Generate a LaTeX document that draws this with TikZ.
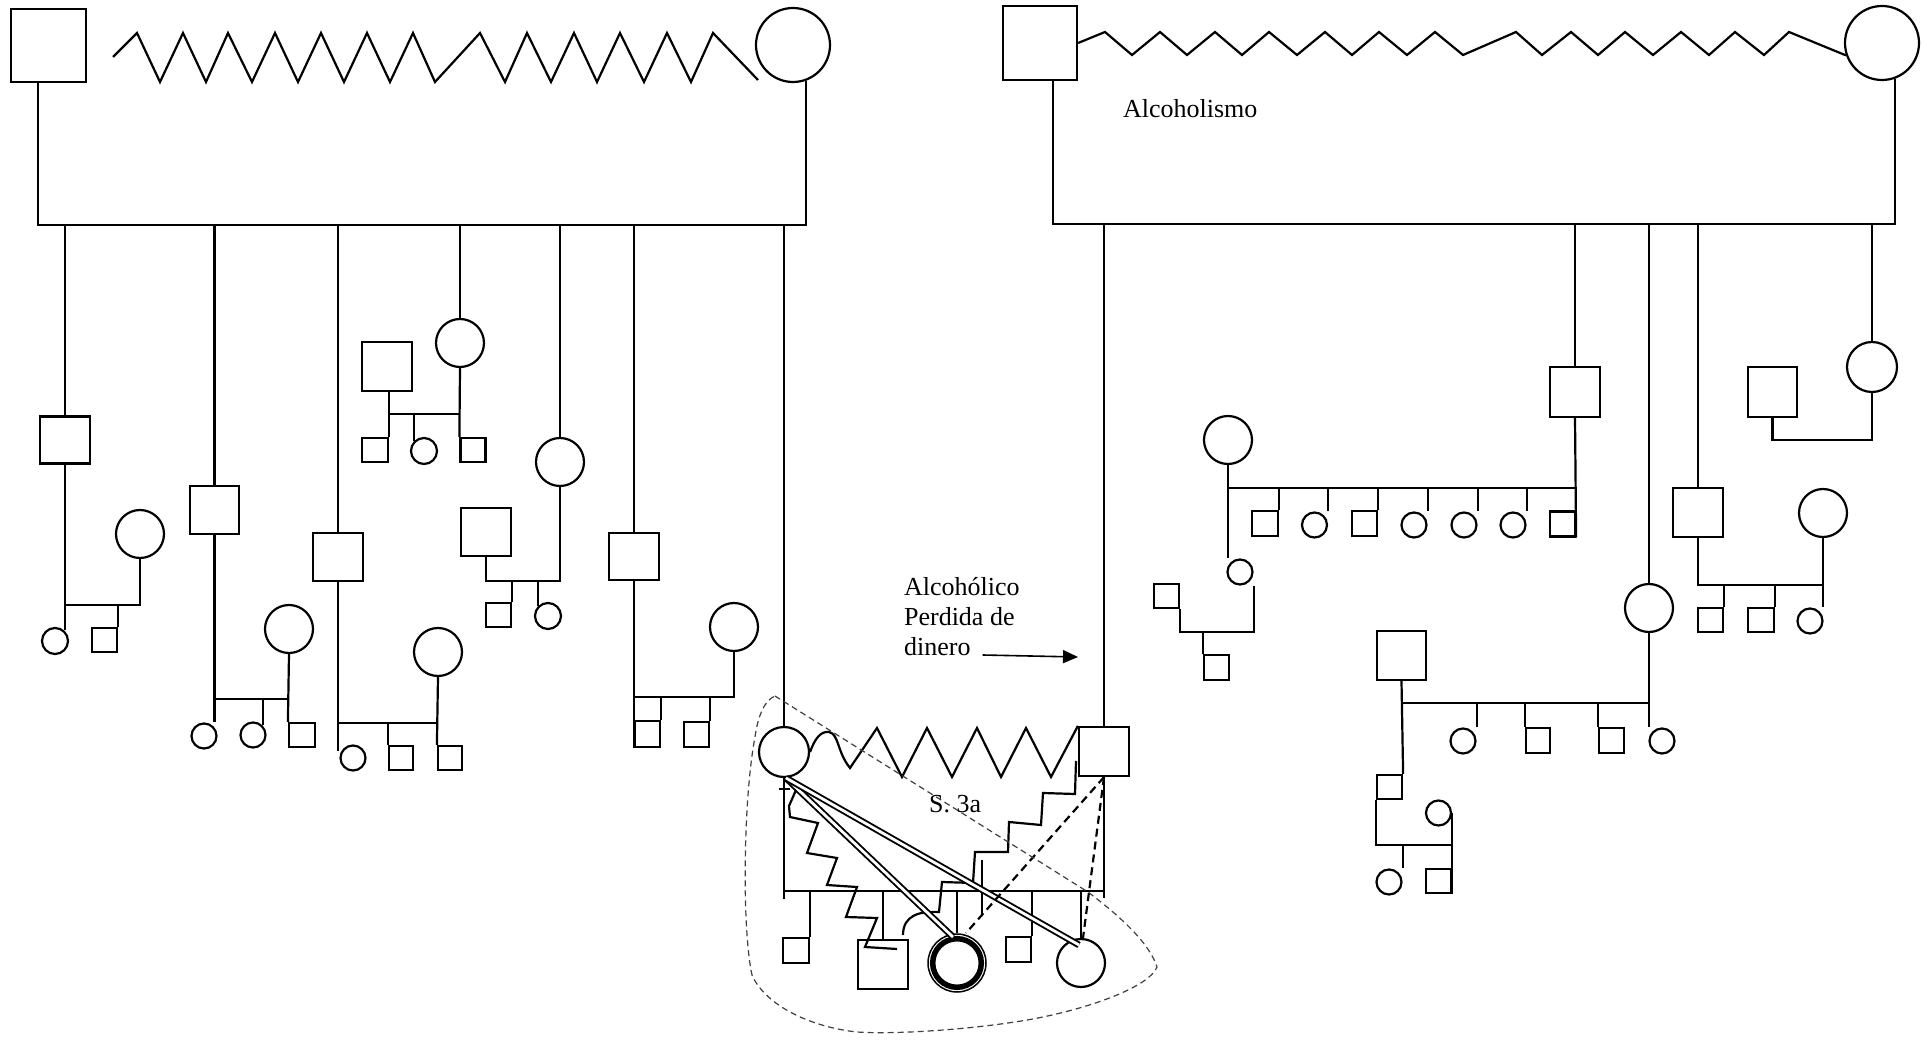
\documentclass[tikz,border=0pt]{standalone}
\usepackage{fontspec}
\setmainfont{Liberation Serif}
\usetikzlibrary{calc,arrows.meta}
\begin{document}
\begin{tikzpicture}[x=1pt,y=-1pt,line width=2.2pt,
  kbox/.style n args={2}{draw,rectangle,inner sep=0pt,minimum width=#1,minimum height=#2},
  kcirc/.style={draw,circle,inner sep=0pt,minimum size=#1},
  lbl/.style={anchor=base west,inner sep=0pt,font=\fontsize{26}{30}\selectfont},
  dotb/.style={draw=black!75,line width=1.2pt,dash pattern=on 6pt off 4pt},
  relx/.style={line width=2.2pt,dash pattern=on 8pt off 5pt},
  tie/.style={double=white,double distance=2.8pt,line width=1.9pt},
]
\useasboundingbox (0,0) rectangle (1923,1040);
\fill[white] (0,0) rectangle (1923,1040);

% ================= LEFT FAMILY =================
\node[kbox={75pt}{73pt}] (gpA) at (48.5,45.5) {};
\node[kcirc=74pt] (gmA) at (793,45) {};
\draw ([xshift=-10.5pt]gpA.south) -- ++(0,142) coordinate (barL) -| (gmA.-70);
\draw (113,57) -- (137,33) -- (160,82) -- (183,33) -- (206,82) -- (228,33) -- (252,82)
  -- (275,33) -- (298,82) -- (321,33) -- (344,82) -- (367,33) -- (390,82) -- (413,33)
  -- (435,82) -- (480,33) -- (505,82) -- (527,33) -- (551,82) -- (574,33) -- (597,82)
  -- (620,33) -- (644,82) -- (667,33) -- (691,82) -- (713,33) -- (758,80);

% family A
\node[kbox={50pt}{47pt}] (A1) at (65,440) {};
\node[kcirc=48pt] (A2) at (140,534) {};
\node[kcirc=26pt] (A3) at (55,641) {};
\node[kbox={25pt}{24pt}] (A4) at (104.5,640) {};
\coordinate (hA) at (0,605);
\draw (A1.north |- barL) -- (A1.north);
\draw (A1.south) -- (A1.south |- A3.50);
\draw (A2.south) -- (A2.south |- hA) -- (A1.south |- hA);
\draw (A4.north east |- hA) -- (A4.north east);

% family B
\node[kbox={49pt}{48pt}] (B1) at (214.5,510) {};
\node[kcirc=48pt] (B2) at (289,629) {};
\node[kcirc=25pt] (B3) at (204,736) {};
\node[kcirc=25pt] (B4) at (253,735) {};
\node[kbox={26pt}{24pt}] (B5) at (302,735) {};
\coordinate (hB) at (0,699);
\draw (B1.north |- barL) -- (B1.north);
\draw (B1.south) -- (B1.south |- B3.north);
\draw (B2.south) -- (B5.north west);
\draw (B1.south |- hB) -- (B2.south |- hB);
\draw (B4.north east |- hB) -- (B4.north east);

% family C
\node[kbox={50pt}{48pt}] (C1) at (338,557) {};
\node[kcirc=48pt] (C2) at (438,652) {};
\node[kcirc=25pt] (C3) at (353,758) {};
\node[kbox={24pt}{24pt}] (C4) at (401,758) {};
\node[kbox={24pt}{24pt}] (C5) at (450,758) {};
\coordinate (hC) at (0,723);
\draw (C1.north |- barL) -- (C1.north);
\draw (C1.south) -- (C1.south |- C3.150);
\draw (C2.south) -- (C5.north west);
\draw (C1.south |- hC) -- (C2.south |- hC);
\draw (C4.north west |- hC) -- (C4.north west);

% family D
\node[kcirc=48pt] (D1) at (460,343) {};
\node[kbox={50pt}{49pt}] (D2) at (387,366.5) {};
\node[kbox={26pt}{24pt}] (D3) at (375,450) {};
\node[kcirc=26pt] (D4) at (424,451) {};
\node[kbox={25pt}{24pt}] (D5) at (473,450) {};
\coordinate (hD) at (0,414);
\draw (D1.north |- barL) -- (D1.north);
\draw (D3.north east |- D2.south) -- (D3.north east);
\draw (D1.south) -- (D5.north west);
\draw (D3.north east |- hD) -- (D1.south |- hD);
\draw (D4.north west |- hD) -- (D4.north west);

% family E
\node[kcirc=48pt] (E1) at (560,462) {};
\node[kbox={50pt}{48pt}] (E2) at (486,532) {};
\node[kbox={25pt}{24pt}] (E3) at (498.5,615) {};
\node[kcirc=26pt] (E4) at (548,616) {};
\coordinate (hE) at (0,581);
\draw (E1.north |- barL) -- (E1.north);
\draw (E1.south) -- (E1.south |- hE) -- (E2.south |- hE) -- (E2.south);
\draw (E3.north east |- hE) -- (E3.north east);
\draw (E4.north west |- hE) -- (E4.north west);

% family F
\node[kbox={50pt}{47pt}] (F1) at (634,556.5) {};
\node[kcirc=48pt] (F2) at (734,627) {};
\node[kbox={25pt}{26pt}] (F3) at (647.5,734) {};
\node[kbox={25pt}{25pt}] (F4) at (696.5,734.5) {};
\coordinate (hF) at (0,697);
\draw (F1.north |- barL) -- (F1.north);
\draw (F3.south west |- F1.south) -- (F3.south west);
\draw (F3.north west |- hF) -- (F2.south |- hF) -- (F2.south);
\draw (F3.north east |- hF) -- (F3.north east);
\draw (F4.north east |- hF) -- (F4.north east);

% ================= RIGHT FAMILY =================
\node[kbox={74pt}{74pt}] (gpB) at (1040,43) {};
\node[kcirc=74pt] (gmB) at (1882,43) {};
\draw ([xshift=13pt]gpB.south) -- ++(0,143) coordinate (barR) -| (gmB.-70);
\draw (gpB.east) -- (1105,32) -- (1132,55) -- (1160,32) -- (1187,55) -- (1215,32) -- (1242,55)
  -- (1269,32) -- (1297,55) -- (1325,32) -- (1352,55) -- (1379,32) -- (1407,55) -- (1435,32)
  -- (1463,55) -- (1516,32) -- (1542,55) -- (1571,32) -- (1598,55) -- (1625,32) -- (1653,55)
  -- (1681,32) -- (1709,55) -- (1735,32) -- (1764,55) -- (1789,32) -- (gmB.199);
\node[lbl] (alc) at (1122,118) {Alcoholismo};

% family G
\node[kbox={50pt}{50pt}] (G1) at (1575,392) {};
\node[kcirc=48pt] (G2) at (1228,440) {};
\node[kbox={26pt}{25pt}] (G3) at (1265,523.5) {};
\node[kcirc=25pt] (G4) at (1314.5,525) {};
\node[kbox={25pt}{25pt}] (G5) at (1364.5,523.5) {};
\node[kcirc=25pt] (G6) at (1414,525) {};
\node[kcirc=25pt] (G7) at (1464,525) {};
\node[kcirc=25pt] (G8) at (1513,525) {};
\node[kbox={25pt}{25pt}] (G9) at (1562.5,524) {};
\coordinate (hG) at (0,488);
\draw (G1.north |- barR) -- (G1.north);
\draw (G1.south) -- (G9.south east);
\draw (G2.south |- hG) -- (G1.south |- hG);
\draw (G3.north east |- hG) -- (G3.north east);
\draw (G4.east |- hG) -- (G4.east |- G4.north);
\draw (G5.north east |- hG) -- (G5.north east);
\draw (G6.east |- hG) -- (G6.east |- G6.north);
\draw (G7.east |- hG) -- (G7.east |- G7.north);
\draw (G8.east |- hG) -- (G8.east |- G8.north);
\node[kcirc=25pt] (G10) at (1240,572) {};
\node[kbox={25pt}{24pt}] (G11) at (1166.5,596) {};
\node[kbox={25pt}{25pt}] (G12) at (1216.5,667.5) {};
\coordinate (hG2) at (0,632);
\draw (G2.south) -- (G2.south |- G10.north);
\draw (G10.east |- G10.south) -- (G10.east |- hG2) -- (G11.south east |- hG2) -- (G11.south east);
\draw (G12.north west |- hG2) -- (G12.north west);

% family H
\node[kcirc=48pt] (H1) at (1649,608) {};
\node[kbox={49pt}{49pt}] (H2) at (1401.5,655.5) {};
\node[kcirc=25pt] (H3) at (1463,741) {};
\node[kbox={24pt}{25pt}] (H4) at (1538,740.5) {};
\node[kbox={25pt}{25pt}] (H5) at (1611.5,740.5) {};
\node[kcirc=25pt] (H6) at (1662,741) {};
\coordinate (hH) at (0,703);
\draw (H1.north |- barR) -- (H1.north);
\draw (H1.south) -- (H1.south |- H6.north);
\draw (H2.south |- hH) -- (H1.south |- hH);
\draw (H3.east |- hH) -- (H3.east |- H3.north);
\draw (H4.north west |- hH) -- (H4.north west);
\draw (H5.north west |- hH) -- (H5.north west);
\node[kbox={25pt}{24pt}] (H7) at (1389.5,787) {};
\node[kcirc=25pt] (H8) at (1438.5,813) {};
\node[kcirc=25pt] (H9) at (1389,882) {};
\node[kbox={25pt}{24pt}] (H10) at (1438.5,881) {};
\coordinate (hH2) at (0,845);
\draw (H2.south) -- (H7.north east);
\draw (H7.south west) -- (H7.south west |- hH2) -- (H8.east |- hH2);
\draw (H8.east) -- (H10.south east);
\draw (H9.east |- hH2) -- (H9.east |- H9.north);

% family J
\node[kbox={50pt}{49pt}] (J1) at (1698,512.5) {};
\node[kcirc=48pt] (J2) at (1823,513) {};
\node[kbox={25pt}{24pt}] (J3) at (1710.5,620) {};
\node[kbox={26pt}{24pt}] (J4) at (1761,620) {};
\node[kcirc=25pt] (J5) at (1810,621) {};
\coordinate (hJ) at (0,585);
\draw (J1.north |- barR) -- (J1.north);
\draw (J1.south) -- (J1.south |- hJ) -- (J2.south |- hJ);
\draw (J2.south) -- (J2.south |- J5.north);
\draw (J3.north east |- hJ) -- (J3.north east);
\draw (J4.north east |- hJ) -- (J4.north east);

% family K
\node[kcirc=50pt] (K1) at (1872,367) {};
\node[kbox={49pt}{50pt}] (K2) at (1772.5,392) {};
\coordinate (hK) at (0,440);
\draw (K1.north |- barR) -- (K1.north);
\draw (K2.south) -- (K2.south |- hK) -- (K1.south |- hK) -- (K1.south);

% ================= S. 3a =================
\node[kcirc=50pt] (M1) at (784,752) {};
\node[kbox={50pt}{49pt}] (R1) at (1104,751.5) {};
\draw (M1.north |- barL) -- (M1.north);
\draw (R1.north |- barR) -- (R1.north);

\node[lbl] (t1) at (903,595) {Alcohólico};
\node[lbl] (t2) at (903,625) {Perdida de};
\node[lbl] (t3) at (903,655) {dinero};
\coordinate (arrEnd) at (1078,657);
\draw[line width=1.6pt,-{Triangle[length=15pt,width=13pt]}] ([xshift=11pt]t3.base east) -- (arrEnd);

% conflicted marriage line
\draw (M1.east) .. controls (815,738) and (821,731) .. (829,732)
  .. controls (839,734) and (837,752) .. (850,768) -- (877,728) -- (902,777) -- (927,728)
  -- (952,777) -- (977,728) -- (1001,777) -- (1026,728) -- (1051,777) -- (R1.north west);

\coordinate (h3) at (0,891);
\draw (M1.south) -- ++(0,121);
\draw (R1.south) -- ++(0,121);
\draw (M1.south |- h3) -- (R1.south |- h3);
\draw (779,789) -- (790,789);

\node[lbl] (s3a) at (928,812) {S. 3a};

% children
\node[kbox={26pt}{25pt}] (N1) at (796,950.5) {};
\node[kbox={50pt}{49pt}] (N2) at (883,964.5) {};
\node[kcirc=58pt,line width=1.5pt] (N3) at (957,963) {};
\draw[line width=5.5pt] (N3.center) circle[radius=24.3pt];
\node[kbox={25pt}{25pt}] (N4) at (1018.5,949.5) {};
\node[kcirc=48pt] (N5) at (1081,963) {};
\draw (N1.north east |- h3) -- (N1.north east);
\draw (N2.north |- h3) -- (N2.north);
\draw (N3.north |- h3) -- (N3.north);
\draw (N4.north east |- h3) -- (N4.north east);
\draw (N5.north |- h3) -- (N5.north);
\draw (982,860) -- (982,915);

% staircase conflict lines
\draw (796,790) -- (789,806) -- (790,817) -- (818,823) -- (807,853) -- (837,858) -- (827,885)
  -- (857,887) -- (846,917) -- (877,918) -- (865,947) -- (897,949);
\draw (1076,761) -- (1075,794) -- (1043,793) -- (1041,825) -- (1009,822) -- (1008,852)
  -- (975,852) -- (973,883) -- (942,882) -- (939,912) .. controls (920,911) and (903,915) .. (903,935);

% close bonds (double lines)
\draw[tie] (786,778) -- (953,937);
\draw[tie] (786,778) -- (1079,945);

% distant relations (dashed)
\draw[relx] (R1.south) -- (966,933);
\draw[relx] (R1.south) -- (1083,938);

% household boundary
\draw[dotb] (775,696) -- (1088,892) .. controls (1125,920) and (1150,945) .. (1157,967)
  .. controls (1150,985) and (1100,1005) .. (1043,1017)
  .. controls (990,1028) and (900,1035) .. (857,1032)
  .. controls (810,1027) and (765,1005) .. (752,975)
  .. controls (742,930) and (743,800) .. (755,737)
  .. controls (758,715) and (765,700) .. (775,696);
\end{tikzpicture}
\end{document}
